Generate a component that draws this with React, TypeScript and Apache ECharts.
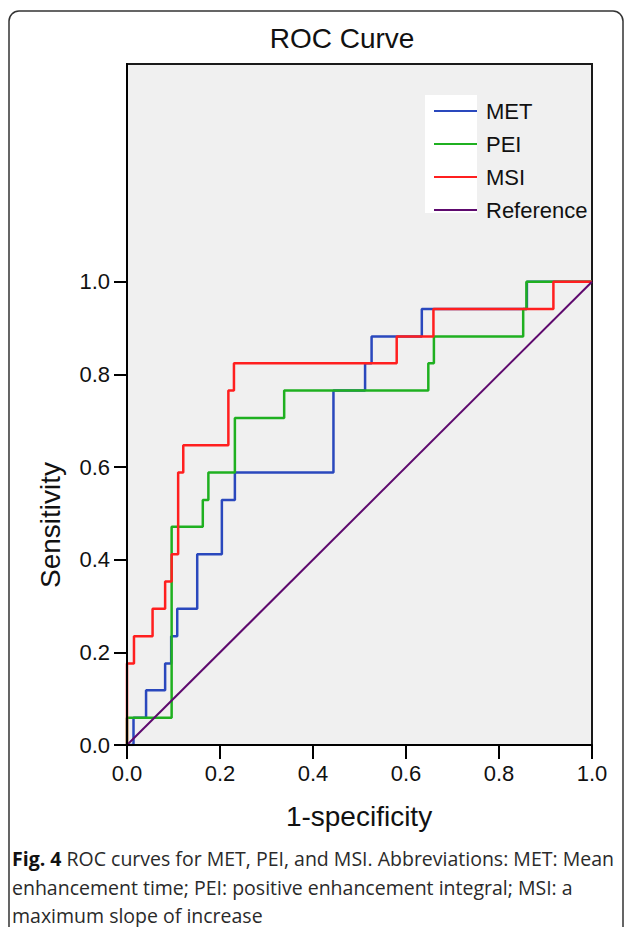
import React, { useEffect, useRef } from "react";
import * as echarts from "echarts";

const chartTitle = "ROC Curve";
const xAxisTitle = "1-specificity";
const yAxisTitle = "Sensitivity";
const tickValues = [0, 0.2, 0.4, 0.6, 0.8, 1.0];
const seriesNames = ["MET", "PEI", "MSI", "Reference"];

// ROC corner points (1-specificity, sensitivity), drawn as steps
const metFpr = [0, 0.014, 0.041, 0.082, 0.095, 0.108, 0.151, 0.204, 0.232, 0.444, 0.512, 0.526, 0.634, 0.86, 1.0];
const metTpr = [0, 0.059, 0.118, 0.176, 0.235, 0.294, 0.412, 0.529, 0.588, 0.765, 0.824, 0.882, 0.941, 1.0, 1.0];

const peiFpr = [0, 0, 0.096, 0.163, 0.175, 0.232, 0.338, 0.648, 0.66, 0.852, 0.859, 1.0];
const peiTpr = [0, 0.059, 0.471, 0.529, 0.588, 0.706, 0.765, 0.824, 0.882, 0.941, 1.0, 1.0];

const msiFpr = [0, 0, 0.015, 0.055, 0.082, 0.096, 0.11, 0.121, 0.218, 0.23, 0.58, 0.659, 0.917, 1.0];
const msiTpr = [0, 0.176, 0.235, 0.294, 0.353, 0.412, 0.588, 0.647, 0.765, 0.824, 0.882, 0.941, 1.0, 1.0];

const refFpr = [0, 1];
const refTpr = [0, 1];

const captionBold = "Fig. 4";
const captionLines = [
  " ROC curves for MET, PEI, and MSI. Abbreviations: MET: Mean",
  "enhancement time; PEI: positive enhancement integral; MSI: a",
  "maximum slope of increase",
];

const colors = ["#2a48bd", "#1fb020", "#ff1f1f", "#5e0a6e"];
const FONT = "'Liberation Sans', Arial, sans-serif";
const CAP_FONT = "'Open Sans', 'Noto Sans', sans-serif";

function zip(xs: number[], ys: number[]) {
  return xs.map((x, i) => [x, ys[i]]);
}

export default function App() {
  const ref = useRef<HTMLDivElement>(null);
  useEffect(() => {
    const chart = echarts.init(ref.current!, null, { renderer: "svg" });
    const data = [
      zip(metFpr, metTpr),
      zip(peiFpr, peiTpr),
      zip(msiFpr, msiTpr),
      zip(refFpr, refTpr),
    ];
    const captionStyle = {
      fontFamily: CAP_FONT,
      fontSize: 19.5,
      fill: "#2a2a2a",
      align: "left",
      verticalAlign: "middle",
    };
    chart.setOption({
      animation: false,
      backgroundColor: "#ffffff",
      grid: {
        left: 127,
        right: 35,
        top: 64,
        bottom: 182,
        show: true,
        backgroundColor: "#f0f0f0",
        borderColor: "#1a1a1a",
        borderWidth: 2,
      },
      legend: {
        data: seriesNames,
        orient: "vertical",
        left: 428,
        top: 95,
        itemWidth: 43,
        itemHeight: 22,
        itemGap: 11,
        itemStyle: { opacity: 0 },
        textStyle: {
          fontFamily: FONT,
          fontSize: 22,
          color: "#111",
          padding: [0, 0, 0, 4],
        },
      },
      xAxis: {
        type: "value",
        min: 0,
        max: 1,
        interval: 0.2,
        z: 10,
        axisLine: { show: true, onZero: false, lineStyle: { color: "#000", width: 2 } },
        axisTick: { show: true, length: 14, lineStyle: { color: "#000", width: 2 } },
        axisLabel: {
          margin: 17,
          fontFamily: FONT,
          fontSize: 22,
          color: "#111",
          formatter: (v: number) => v.toFixed(1),
        },
        splitLine: { show: false },
      },
      yAxis: {
        type: "value",
        min: 0,
        max: 1.47,
        z: 10,
        axisLine: { show: true, onZero: false, lineStyle: { color: "#000", width: 2 } },
        axisTick: {
          show: true,
          length: 13,
          customValues: tickValues,
          lineStyle: { color: "#000", width: 2 },
        },
        axisLabel: {
          margin: 17,
          fontFamily: FONT,
          fontSize: 22,
          color: "#111",
          customValues: tickValues,
          formatter: (v: number) => v.toFixed(1),
        },
        splitLine: { show: false },
      },
      series: seriesNames.map((name, i) => ({
        name,
        type: "line",
        data: data[i],
        step: i < 3 ? "end" : false,
        symbol: "none",
        showSymbol: false,
        color: colors[i],
        lineStyle: { color: colors[i], width: i < 3 ? 2.5 : 2 },
        itemStyle: { color: colors[i] },
        z: 2 + i,
      })),
      graphic: [
        {
          type: "rect",
          silent: true,
          z: -10,
          shape: { x: 9, y: 11, width: 614, height: 960, r: 10 },
          style: { fill: "none", stroke: "#333", lineWidth: 1.5 },
        },
        {
          type: "rect",
          silent: true,
          z: 1,
          shape: { x: 425, y: 95, width: 52, height: 118 },
          style: { fill: "#ffffff" },
        },
        {
          type: "text",
          x: 342,
          y: 38,
          style: {
            text: chartTitle,
            fontFamily: FONT,
            fontSize: 28,
            fill: "#111",
            align: "center",
            verticalAlign: "middle",
          },
        },
        {
          type: "text",
          x: 50,
          y: 525,
          rotation: Math.PI / 2,
          style: {
            text: yAxisTitle,
            fontFamily: FONT,
            fontSize: 28,
            fill: "#111",
            align: "center",
            verticalAlign: "middle",
          },
        },
        {
          type: "text",
          x: 359,
          y: 816,
          style: {
            text: xAxisTitle,
            fontFamily: FONT,
            fontSize: 28,
            fill: "#111",
            align: "center",
            verticalAlign: "middle",
          },
        },
        {
          type: "text",
          x: 12,
          y: 858,
          style: {
            ...captionStyle,
            text: "{b|" + captionBold + "}" + captionLines[0],
            rich: {
              b: { fontFamily: CAP_FONT, fontSize: 19.5, fontWeight: "bold", fill: "#111" },
            },
          },
        },
        {
          type: "text",
          x: 12,
          y: 887,
          style: { ...captionStyle, text: captionLines[1] },
        },
        {
          type: "text",
          x: 12,
          y: 915,
          style: { ...captionStyle, text: captionLines[2] },
        },
      ],
    });
    return () => chart.dispose();
  }, []);
  return (
    <div
      ref={ref}
      style={{ position: "fixed", left: 0, top: 0, width: 627, height: 927, background: "#fff" }}
    />
  );
}
